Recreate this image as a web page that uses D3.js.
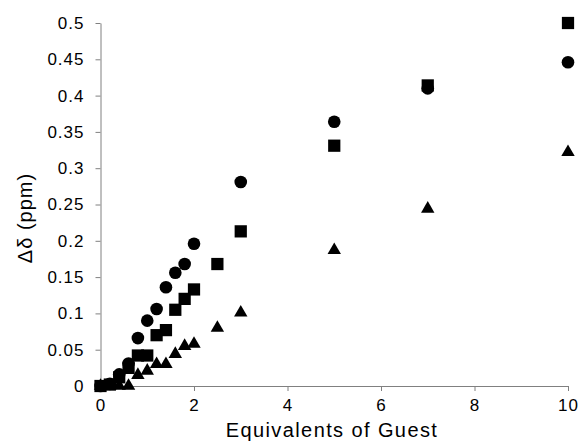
<!DOCTYPE html>
<html><head><meta charset="utf-8">
<script src="https://cdn.jsdelivr.net/npm/d3@7"></script>
<style>body{margin:0;background:#fff}svg{display:block}</style>
</head><body>
<script>
const xTicks = [0, 2, 4, 6, 8, 10];
const yTicks = [0, 0.05, 0.1, 0.15, 0.2, 0.25, 0.3, 0.35, 0.4, 0.45, 0.5];

const circleX = [0, 0.2, 0.4, 0.6, 0.8, 1.0, 1.2, 1.4, 1.6, 1.8, 2.0, 3, 5, 7, 10];
const circleY = [0, 0.003, 0.016, 0.031, 0.066, 0.090, 0.106, 0.136, 0.156, 0.168, 0.196, 0.281, 0.364, 0.410, 0.446];

const squareX = [0, 0.2, 0.4, 0.6, 0.8, 1.0, 1.2, 1.4, 1.6, 1.8, 2.0, 2.5, 3, 5, 7, 10];
const squareY = [0, 0.002, 0.012, 0.025, 0.042, 0.042, 0.070, 0.077, 0.105, 0.120, 0.133, 0.168, 0.213, 0.331, 0.414, 0.500];

const triX = [0, 0.2, 0.4, 0.6, 0.8, 1.0, 1.2, 1.4, 1.6, 1.8, 2.0, 2.5, 3, 5, 7, 10];
const triY = [0, 0, 0, 0, 0.015, 0.021, 0.030, 0.030, 0.044, 0.055, 0.058, 0.080, 0.101, 0.187, 0.244, 0.322];

const W = 579, H = 442;
const m = {left: 100.5, right: 11, top: 23, bottom: 56};
const svg = d3.select("body").append("svg").attr("width", W).attr("height", H);
const x = d3.scaleLinear().domain([0, 10]).range([m.left, W - m.right]);
const y = d3.scaleLinear().domain([0, 0.5]).range([H - m.bottom, m.top]);

const font = "Liberation Sans, Arial, sans-serif";
const axisColor = "#808080";

const xAxis = svg.append("g").attr("transform", `translate(0,${H - m.bottom})`)
  .call(d3.axisBottom(x).tickValues(xTicks).tickSize(5).tickSizeOuter(0).tickPadding(8).tickFormat(d3.format("d")));
const yAxis = svg.append("g").attr("transform", `translate(${m.left},0)`)
  .call(d3.axisLeft(y).tickValues(yTicks).tickSize(5).tickSizeOuter(0).tickPadding(11).tickFormat(d => String(d)));
[xAxis, yAxis].forEach(g => {
  g.selectAll("path,line").attr("stroke", axisColor).attr("stroke-width", 1);
  g.selectAll("text").attr("font-family", font).attr("font-size", 17).attr("letter-spacing", 1).attr("fill", "#000");
});

function plot(xs, ys, type, size) {
  const sym = d3.symbol().type(type).size(size);
  svg.append("g").selectAll("path").data(xs.map((v, i) => [v, ys[i]])).join("path")
    .attr("d", sym)
    .attr("transform", d => `translate(${x(d[0])},${y(d[1])})`)
    .attr("fill", "#000");
}
plot(triX, triY, d3.symbolTriangle, 78);
plot(circleX, circleY, d3.symbolCircle, 125);
plot(squareX, squareY, d3.symbolSquare, 150);

svg.append("text").attr("x", 332).attr("y", 437)
  .attr("text-anchor", "middle").attr("font-family", font).attr("font-size", 20).attr("letter-spacing", 1.4)
  .text("Equivalents of Guest");
svg.append("text").attr("transform", `translate(32,218) rotate(-90)`)
  .attr("text-anchor", "middle").attr("font-family", font).attr("font-size", 20).attr("letter-spacing", 1)
  .text("Δδ (ppm)");
</script>
</body></html>
